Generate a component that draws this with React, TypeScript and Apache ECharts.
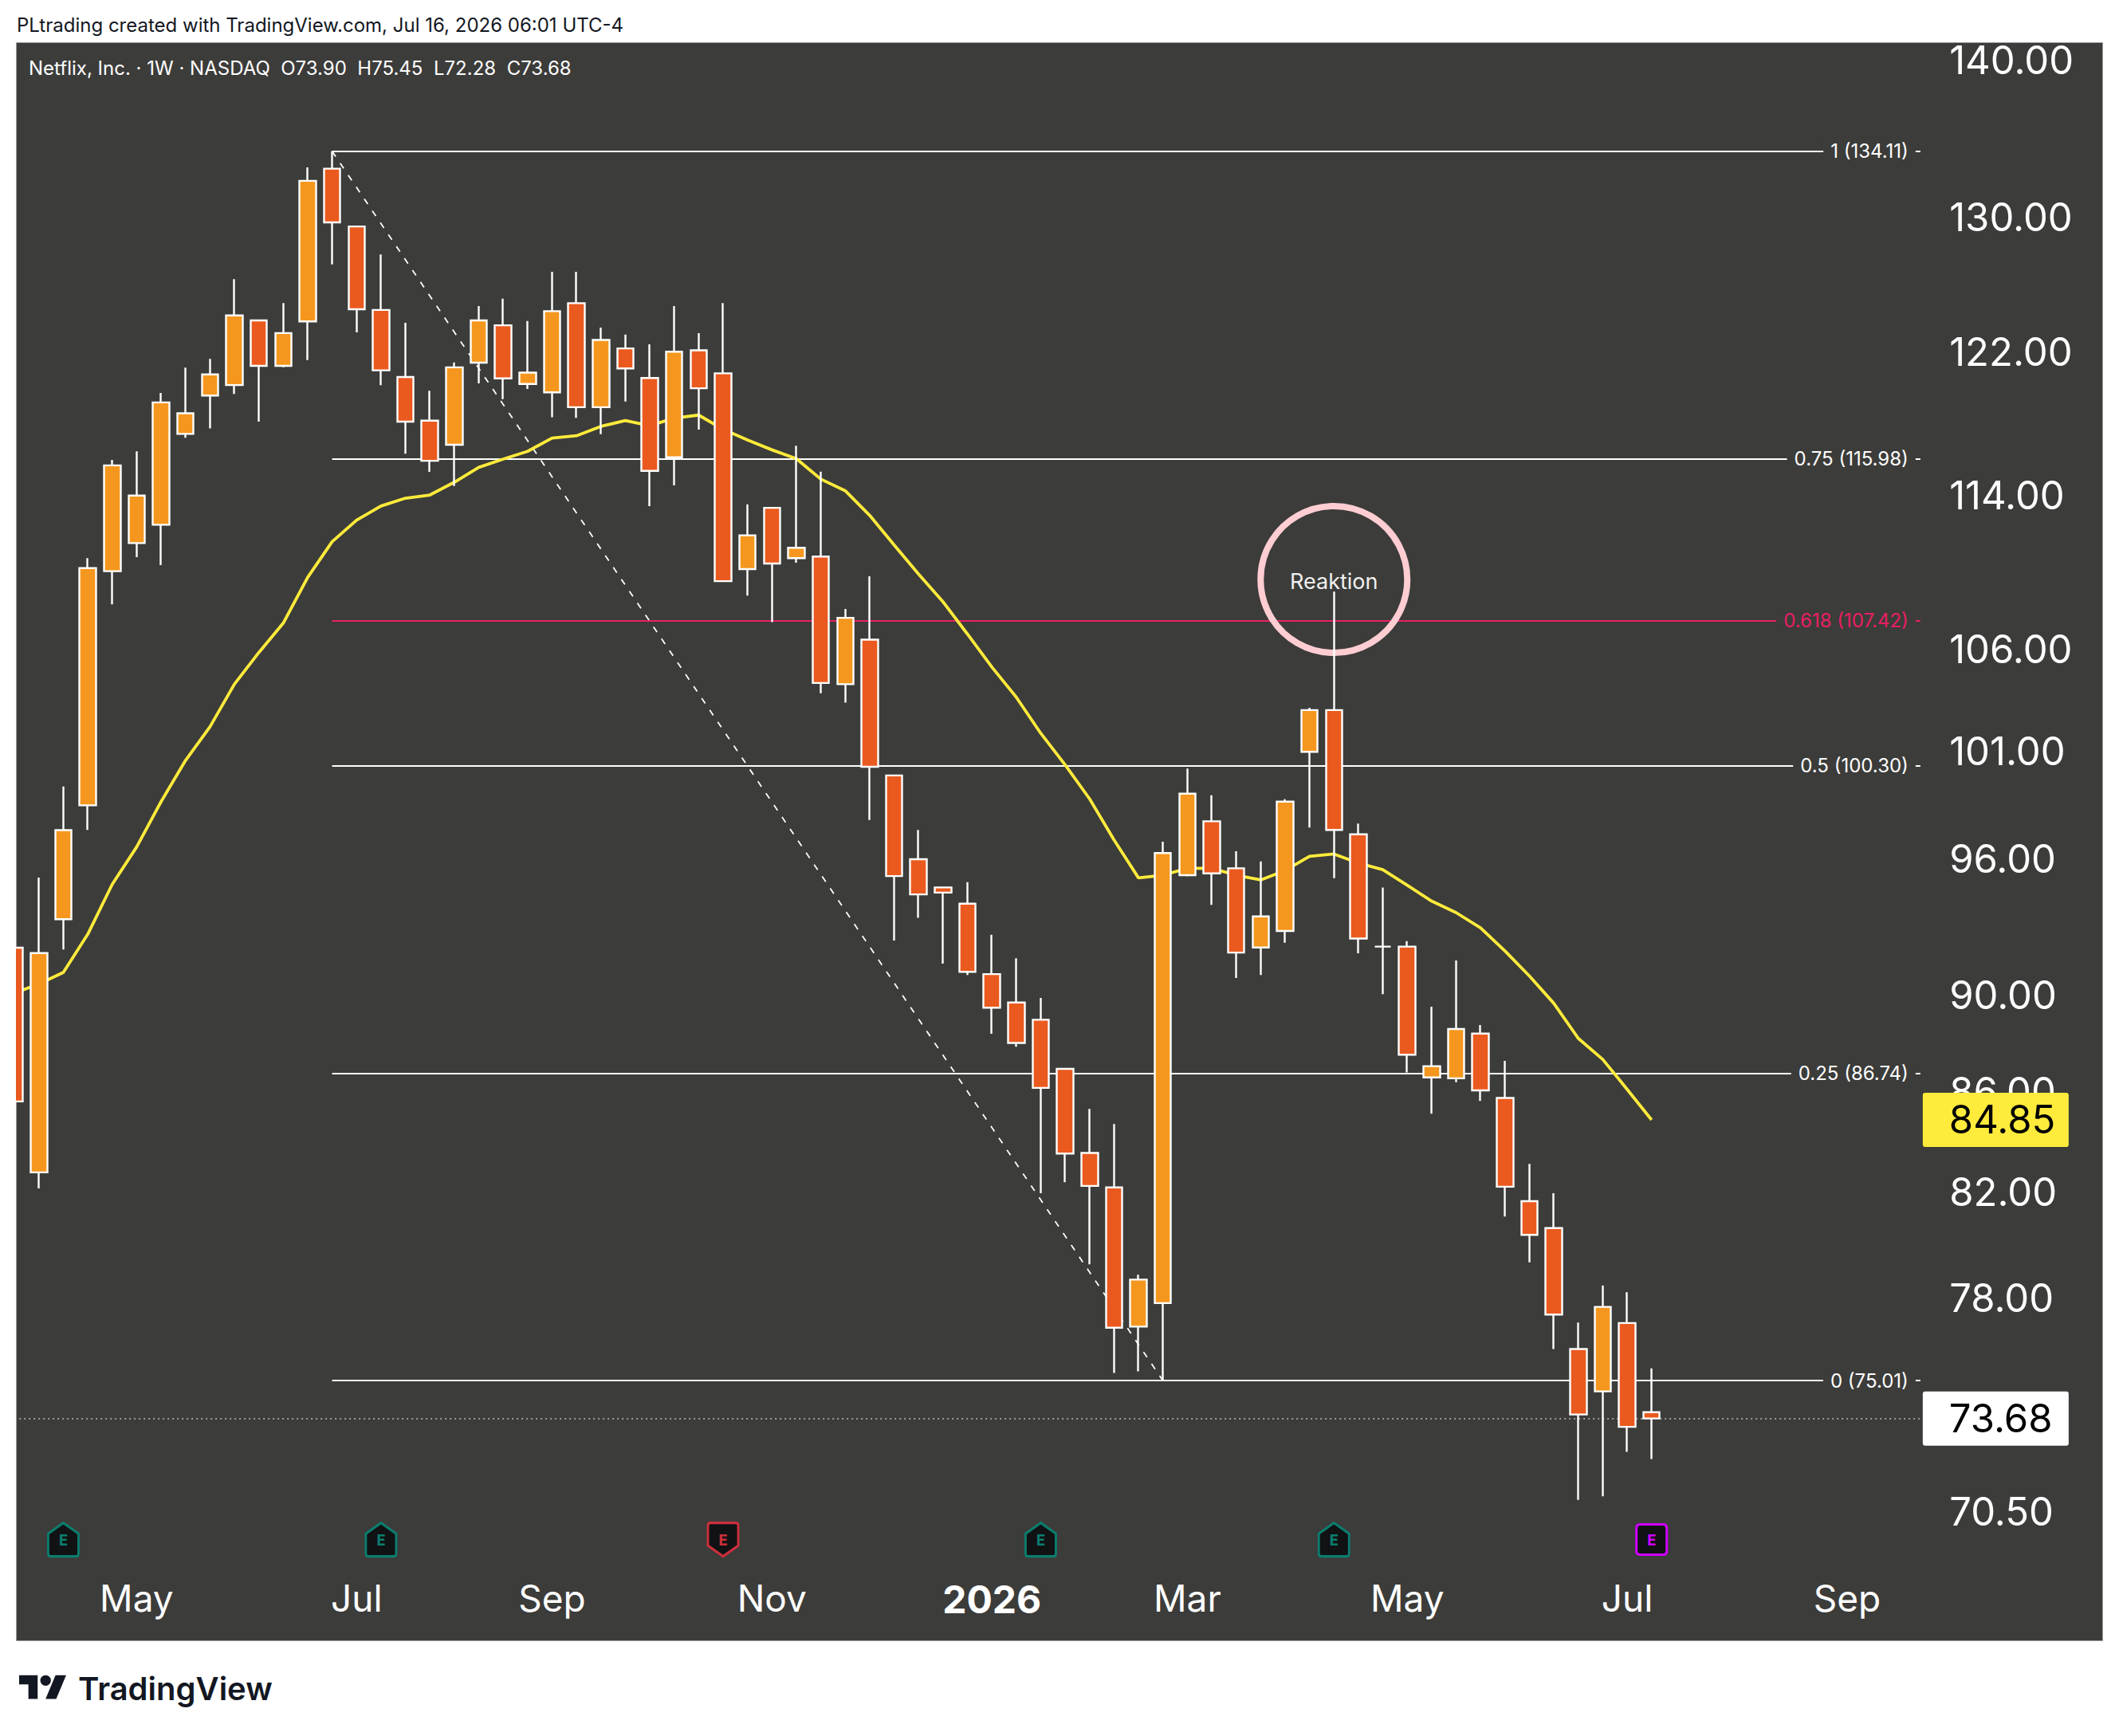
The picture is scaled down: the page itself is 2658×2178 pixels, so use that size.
import React, { useEffect, useRef } from "react";
import * as echarts from "echarts";

const FONT = "Inter, 'Noto Sans', sans-serif";
const PANEL = "#3c3c3a";
const ORANGE = "#f5971e";
const RED = "#ea5a1e";
const YELLOW = "#ffeb3b";

// First value is the bar cut off by the left edge of the pane (week of 2025-03-31).
const opens = [92.04,82.77,93.29,98.45,109.97,111.44,112.41,117.34,119.49,120.08,123.81,121.18,123.75,133.01,129.43,124.42,120.54,118.08,116.74,121.36,123.52,120.14,119.67,124.82,118.83,122.18,120.48,116.05,122.07,120.75,110.08,113.31,110.65,110.73,104.25,106.47,99.85,95.97,94.70,93.98,90.90,89.69,88.96,86.92,83.53,82.18,76.95,77.81,95.25,97.71,95.56,92.05,92.77,100.97,102.98,97.11,92.09,92.09,86.57,86.53,88.38,85.73,81.65,80.62,76.14,74.63,77.08,73.90];
const closes = [85.59,91.81,97.30,110.13,115.61,113.97,119.10,118.49,120.69,124.10,121.18,123.07,132.25,129.68,124.46,120.92,118.02,115.86,121.09,123.81,120.46,120.79,124.35,118.83,122.67,121.03,115.31,121.99,119.90,109.45,111.85,110.37,111.19,104.31,107.57,100.26,95.21,94.39,94.47,91.00,89.47,87.99,86.14,83.51,82.24,76.91,78.68,96.25,98.99,95.33,91.83,93.41,98.62,102.98,97.31,92.44,92.09,87.50,87.03,88.57,86.04,82.21,80.36,77.39,73.82,77.67,73.39,73.68];
const lows = [85.59,82.14,91.96,97.31,108.26,110.70,110.28,117.13,117.65,119.58,118.02,121.10,121.51,127.13,123.11,120.08,116.25,115.25,114.49,120.18,119.29,119.86,118.27,118.23,117.32,119.15,113.40,114.52,117.58,109.45,108.71,107.35,110.41,103.80,103.35,97.77,92.35,93.35,91.35,90.86,88.37,87.83,81.96,82.38,79.25,75.28,75.34,75.01,95.20,93.92,90.73,90.86,92.26,97.42,95.12,91.80,90.04,86.77,85.10,86.37,85.61,81.06,79.32,76.14,70.90,71.02,72.53,72.28];
const highs = [92.04,95.14,99.33,110.65,115.91,116.38,119.63,121.07,121.58,126.25,123.81,124.83,133.10,134.11,129.43,127.73,123.67,119.76,121.37,124.65,125.09,123.77,126.68,126.68,123.39,122.98,122.42,124.65,123.06,124.83,113.50,113.31,116.69,115.27,108.02,109.71,99.85,97.31,94.70,94.94,92.61,91.58,89.88,86.92,85.29,84.68,78.86,96.77,100.17,98.92,96.33,95.87,98.73,103.09,108.91,97.60,94.70,92.33,89.51,91.49,88.74,87.25,83.10,81.96,77.10,78.46,78.21,75.45];
const emaValues = [90.09,90.48,90.97,92.63,94.84,96.53,98.62,100.56,102.17,104.25,105.82,107.30,109.65,111.51,112.65,113.41,113.83,114.00,114.69,115.50,115.95,116.38,117.11,117.24,117.76,118.08,117.80,118.22,118.39,117.60,117.00,116.46,115.97,114.86,114.23,112.91,111.34,109.82,108.39,106.75,105.10,103.61,101.86,100.35,98.75,96.85,95.13,95.25,95.56,95.56,95.25,95.04,95.46,96.10,96.21,95.80,95.50,94.80,94.09,93.58,92.91,91.90,90.82,89.65,88.18,87.31,86.08,84.85];

const priceTicks = [140, 130, 122, 114, 106, 101, 96, 90, 86, 82, 78, 70.5];
const fibLevels = [
  { ratio: "1", price: 134.11 },
  { ratio: "0.75", price: 115.98 },
  { ratio: "0.618", price: 107.42 },
  { ratio: "0.5", price: 100.3 },
  { ratio: "0.25", price: 86.74 },
  { ratio: "0", price: 75.01 },
];
const monthLabels: Record<string, string> = {
  "2025-05-05": "May", "2025-07-07": "Jul", "2025-09-01": "Sep", "2025-11-03": "Nov",
  "2026-01-05": "2026", "2026-03-02": "Mar", "2026-05-04": "May", "2026-07-06": "Jul", "2026-09-07": "Sep",
};
const earningsBeat = ["2025-04-14", "2025-07-14", "2026-01-19", "2026-04-13"];
const earningsMiss = ["2025-10-20"];
const earningsNext = ["2026-07-13"];
const lastClose = 73.68;
const lastEma = 84.85;
const priceMin = 68.84;
const priceMax = 141.15;
const earningsRow = 69.58;
const reaktion = { date: "2026-04-13", price: 109.54, text: "Reaktion" };

const weeks: string[] = [];
for (let i = 0; i < 79; i++) {
  weeks.push(new Date(Date.UTC(2025, 2, 31 + 7 * i)).toISOString().slice(0, 10));
}
const barWeeks = weeks.slice(0, opens.length);
const swingStart = "2025-06-30";
const swingEnd = "2026-02-23";
const lastWeek = weeks[weeks.length - 1];

const PENT_UP = "path://M50 0 L100 32 L100 92 Q100 100 92 100 L8 100 Q0 100 0 92 L0 32 Z";
const PENT_DOWN = "path://M50 100 L100 68 L100 8 Q100 0 92 0 L8 0 Q0 0 0 8 L0 68 Z";
const ROUND_SQ = "path://M12 0 L88 0 Q100 0 100 12 L100 88 Q100 100 88 100 L12 100 Q0 100 0 88 L0 12 Q0 0 12 0 Z";

function earningsSeries(dates: string[], symbol: string, color: string, size: number[]) {
  return {
    type: "scatter",
    z: 4,
    silent: true,
    symbol,
    symbolSize: size,
    itemStyle: { color: "#111214", borderColor: color, borderWidth: 3, opacity: 1 },
    label: {
      show: true, position: "inside", formatter: "E", color,
      fontFamily: "'DejaVu Sans Mono', monospace", fontWeight: "bold", fontSize: 20,
    },
    data: dates.map((d) => [d, earningsRow]),
  };
}

function priceTag(value: number, bg: string) {
  return {
    type: "scatter",
    z: 20,
    silent: true,
    clip: false,
    symbolSize: 0,
    itemStyle: { color: "transparent", opacity: 1 },
    label: {
      show: true, position: "right", distance: 3, opacity: 1,
      formatter: () => value.toFixed(2),
      color: "#000", backgroundColor: bg, fontFamily: FONT, fontSize: 49,
      width: 150, height: 68, lineHeight: 68, padding: [0, 0, 0, 33], align: "left", borderRadius: 3,
    },
    data: [[lastWeek, value]],
  };
}

const logoPath = "M14 22H7V11H0V4h14v18zM28 22h-8l7.5-18h8L28 22zM20 8m-4 0a4 4 0 1 0 8 0a4 4 0 1 0 -8 0z";

export default function App() {
  const ref = useRef<HTMLDivElement>(null);
  useEffect(() => {
    if (!ref.current) return;
    echarts.graphic.registerShape("tvlogo", echarts.graphic.extendPath(logoPath, {}) as any);
    const chart = echarts.init(ref.current, undefined, { renderer: "svg" });
    chart.setOption({
      animation: false,
      backgroundColor: "#ffffff",
      textStyle: { fontFamily: FONT },
      grid: { left: 2.83, top: 54, width: 2421.35, height: 1906, containLabel: false },
      xAxis: {
        type: "category",
        data: weeks,
        axisLine: { show: false },
        axisTick: { show: false },
        splitLine: { show: false },
        axisLabel: {
          color: "#ffffff",
          fontFamily: FONT,
          fontSize: 46,
          margin: 22,
          hideOverlap: false,
          interval: (_: number, v: string) => v in monthLabels,
          formatter: (v: string) => {
            const t = monthLabels[v] ?? "";
            return /^\d+$/.test(t) ? `{b|${t}}` : t;
          },
          rich: { b: { fontWeight: "bold", fontSize: 48, color: "#ffffff", fontFamily: FONT } },
        },
      },
      yAxis: [
        {
          type: "log",
          logBase: 10,
          min: priceMin,
          max: priceMax,
          position: "right",
          axisLine: { show: false },
          axisTick: { show: false },
          axisLabel: { show: false },
          splitLine: { show: false },
        },
        {
          type: "value",
          min: Math.log10(priceMin),
          max: Math.log10(priceMax),
          position: "right",
          axisLine: { show: false },
          axisTick: { show: false },
          splitLine: { show: false },
          axisLabel: {
            customValues: priceTicks.map((t) => Math.log10(t)),
            color: "#ffffff",
            fontFamily: FONT,
            fontSize: 49,
            margin: 21,
            align: "left",
            formatter: (v: number) => Math.pow(10, v).toFixed(2),
          },
        },
      ],
      series: [
        ...fibLevels.map((f) => {
          const c = f.ratio === "0.618" ? "#e91e63" : "#ffffff";
          return {
            type: "line",
            z: 1,
            silent: true,
            data: [],
            markLine: {
              silent: true,
              symbol: "none",
              z: 1,
              animation: false,
              lineStyle: { color: c, width: 2, type: "solid", opacity: 1 },
              label: {
                show: true,
                position: "insideEnd",
                distance: 6,
                formatter: `${f.ratio} (${f.price.toFixed(2)})`,
                color: c,
                fontFamily: FONT,
                fontSize: 24,
                backgroundColor: PANEL,
                padding: [3, 9, 3, 9],
              },
              data: [[
                { xAxis: swingStart, yAxis: f.price },
                { xAxis: lastWeek, yAxis: f.price },
              ]],
            },
          };
        }),
        {
          type: "line",
          z: 1,
          silent: true,
          data: [],
          markLine: {
            silent: true,
            symbol: "none",
            z: 1,
            animation: false,
            label: { show: false },
            lineStyle: { color: "#bdbdbd", width: 1.6, type: [2, 4] },
            data: [[
              { xAxis: weeks[0], yAxis: lastClose },
              { xAxis: lastWeek, yAxis: lastClose },
            ]],
          },
        },
        {
          name: "swing",
          type: "line",
          z: 1,
          silent: true,
          symbol: "none",
          lineStyle: { color: "#ffffff", width: 1.8, type: [8, 10] },
          data: [[swingStart, 134.11], [swingEnd, 75.01]],
        },
        {
          name: "reaktion",
          type: "scatter",
          z: 2,
          silent: true,
          symbol: "circle",
          symbolSize: 184,
          itemStyle: { color: "transparent", borderColor: "#ffcdd2", borderWidth: 8, opacity: 1 },
          label: {
            show: true, position: "inside", formatter: reaktion.text, offset: [0, 3],
            color: "#f0f0f0", fontFamily: FONT, fontSize: 27,
          },
          data: [[reaktion.date, reaktion.price]],
        },
        {
          name: "EMA",
          type: "line",
          z: 2,
          silent: true,
          symbol: "none",
          lineStyle: { color: YELLOW, width: 3.8 },
          data: barWeeks.map((w, i) => [w, emaValues[i]]),
        },
        {
          name: "NFLX",
          type: "candlestick",
          z: 3,
          silent: true,
          barWidth: 21,
          itemStyle: {
            color: ORANGE,
            color0: RED,
            borderColor: "#ffffff",
            borderColor0: "#ffffff",
            borderColorDoji: "#ffffff",
            borderWidth: 2.4,
          },
          data: barWeeks.map((w, i) => [opens[i], closes[i], lows[i], highs[i]]),
        },
        earningsSeries(earningsBeat, PENT_UP, "#0b7d6e", [38, 42]),
        earningsSeries(earningsMiss, PENT_DOWN, "#cc2f3c", [38, 42]),
        earningsSeries(earningsNext, ROUND_SQ, "#cf00ff", [38, 38]),
        priceTag(lastEma, YELLOW),
        priceTag(lastClose, "#ffffff"),
      ],
      graphic: {
        elements: [
          { type: "rect", z: 0, silent: true, shape: { x: 20.5, y: 53.5, width: 2617, height: 2005 }, style: { fill: PANEL, stroke: "#9a9a9a", lineWidth: 1 } },
          { type: "rect", z: 50, silent: true, shape: { x: 0, y: 0, width: 20, height: 2178 }, style: { fill: "#ffffff" } },
          { type: "text", z: 51, silent: true, x: 21, y: 31, style: { text: "PLtrading created with TradingView.com, Jul 16, 2026 06:01 UTC-4", fill: "#131722", font: `24px ${FONT}`, verticalAlign: "middle" } },
          { type: "text", z: 51, silent: true, x: 36, y: 85, style: { text: "Netflix, Inc. · 1W · NASDAQ  O73.90  H75.45  L72.28  C73.68", fill: "#ffffff", font: `24px ${FONT}`, verticalAlign: "middle" } },
          { type: "tvlogo", z: 51, silent: true, x: 24, y: 2095, scaleX: 1.66, scaleY: 1.66, style: { fill: "#131722" } },
          { type: "text", z: 51, silent: true, x: 98, y: 2118, style: { text: "TradingView", fill: "#131722", font: `600 40px ${FONT}`, verticalAlign: "middle" } },
        ],
      },
    });
    return () => chart.dispose();
  }, []);
  return <div ref={ref} style={{ position: "absolute", left: 0, top: 0, width: 2658, height: 2178 }} />;
}
